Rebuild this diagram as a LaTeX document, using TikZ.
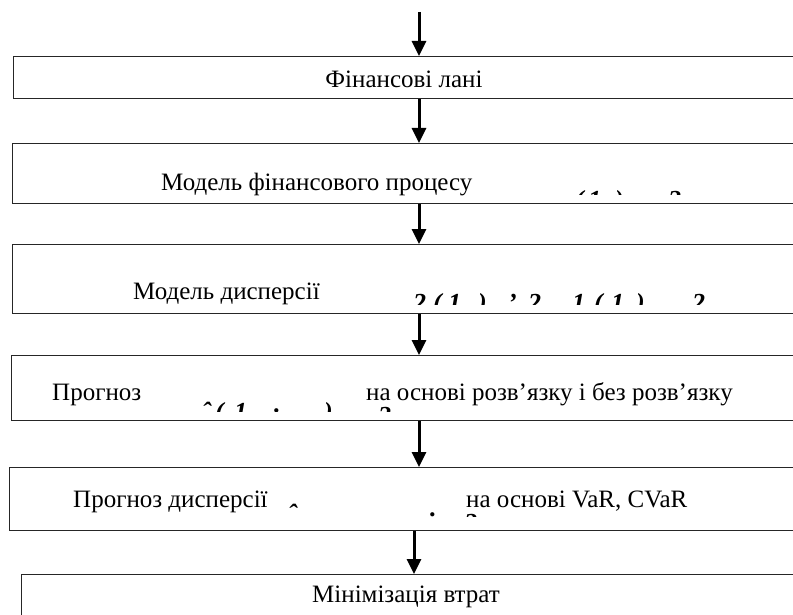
\documentclass[tikz,border=0pt]{standalone}
\usepackage{fontspec}
\setmainfont{Liberation Serif}
\usetikzlibrary{arrows.meta}
\begin{document}
\begin{tikzpicture}[x=1pt,y=-1pt,
  box/.style={draw=black!85, line width=1.4pt, inner sep=0pt, anchor=north west},
  lbl/.style={font=\fontsize{25}{29}\selectfont, inner sep=0pt, anchor=base west},
  lblc/.style={font=\fontsize{25}{29}\selectfont, inner sep=0pt, anchor=base},
  flow/.style={line width=3pt, -{Triangle[length=15pt,width=14pt]}},
  frag/.style={font=\fontsize{26}{30}\selectfont\bfseries\itshape, inner sep=0pt, anchor=base west}]
\useasboundingbox (0,0) rectangle (793,615);
\clip (0,0) rectangle (793,615);
% boxes
\node[box, minimum width=790pt, minimum height=42pt] (b1) at (13,56) {};
\node[box, minimum width=790pt, minimum height=60pt] (b2) at (12,143) {};
\node[box, minimum width=790pt, minimum height=69pt] (b3) at (12,244) {};
\node[box, minimum width=790pt, minimum height=65pt] (b4) at (11,355) {};
\node[box, minimum width=790pt, minimum height=63pt] (b5) at (9,467) {};
\node[box, minimum width=790pt, minimum height=80pt] (b6) at (21,574) {};
% arrows
\coordinate (a0) at (419,12);
\coordinate (a5) at (414,530);
\draw[flow] (a0) -- (a0 |- b1.north);
\draw[flow] (b1.south -| a0) -- (b2.north -| a0);
\draw[flow] (b2.south -| a0) -- (b3.north -| a0);
\draw[flow] (b3.south -| a0) -- (b4.north -| a0);
\draw[flow] (b4.south -| a0) -- (b5.north -| a0);
\draw[flow] (b5.south -| a5) -- (b6.north -| a5);
% texts
\node[lblc] (t1) at (404,88) {Фінансові лані};
\node[lbl] (t2) at (161,190) {Модель фінансового процесу};
\node[lbl] (t3) at (133,299) {Модель дисперсії};
\node[lbl] (t4a) at (52,400) {Прогноз};
\node[lbl] (t4b) at (366,400) {на основі розв’язку і без розв’язку};
\node[lbl] (t5a) at (73,507) {Прогноз дисперсії};
\node[lbl] (t5b) at (466,507) {на основі VaR, CVaR};
\node[lblc] (t6) at (406,602) {Мінімізація втрат};
% clipped formula fragments
\begin{scope}
\clip (12,175) rectangle (793,195);
\foreach \x/\c [count=\i] in {575/{(},588/1,615/{)},668/2}
  \node[frag, name=fa\i] at (\x,208) {\c};
\end{scope}
\begin{scope}
\clip (12,280) rectangle (793,304);
\foreach \x/\c [count=\i] in {413/2,433/{(},448/1,478/{)},508/’,528/2,572/1,594/{(},611/1,636/{)},692/2}
  \node[frag, name=fb\i] at (\x,311) {\c};
\end{scope}
\begin{scope}
\clip (11,390) rectangle (793,411);
\foreach \x/\c [count=\i] in {202/ˆ,215/{(},234/1,324/{)}}
  \node[frag, name=fc\i] at (\x,420) {\c};
\node[frag, name=fc5] at (274,412) {.};
\node[frag, name=fc6] at (378,424) {2};
\end{scope}
\begin{scope}
\clip (9,495) rectangle (793,516);
\node[frag, name=fd1] at (288,522) {ˆ};
\node[frag, name=fd2] at (430,516) {.};
\node[frag, name=fd3] at (464,531) {2};
\end{scope}
\end{tikzpicture}
\end{document}
